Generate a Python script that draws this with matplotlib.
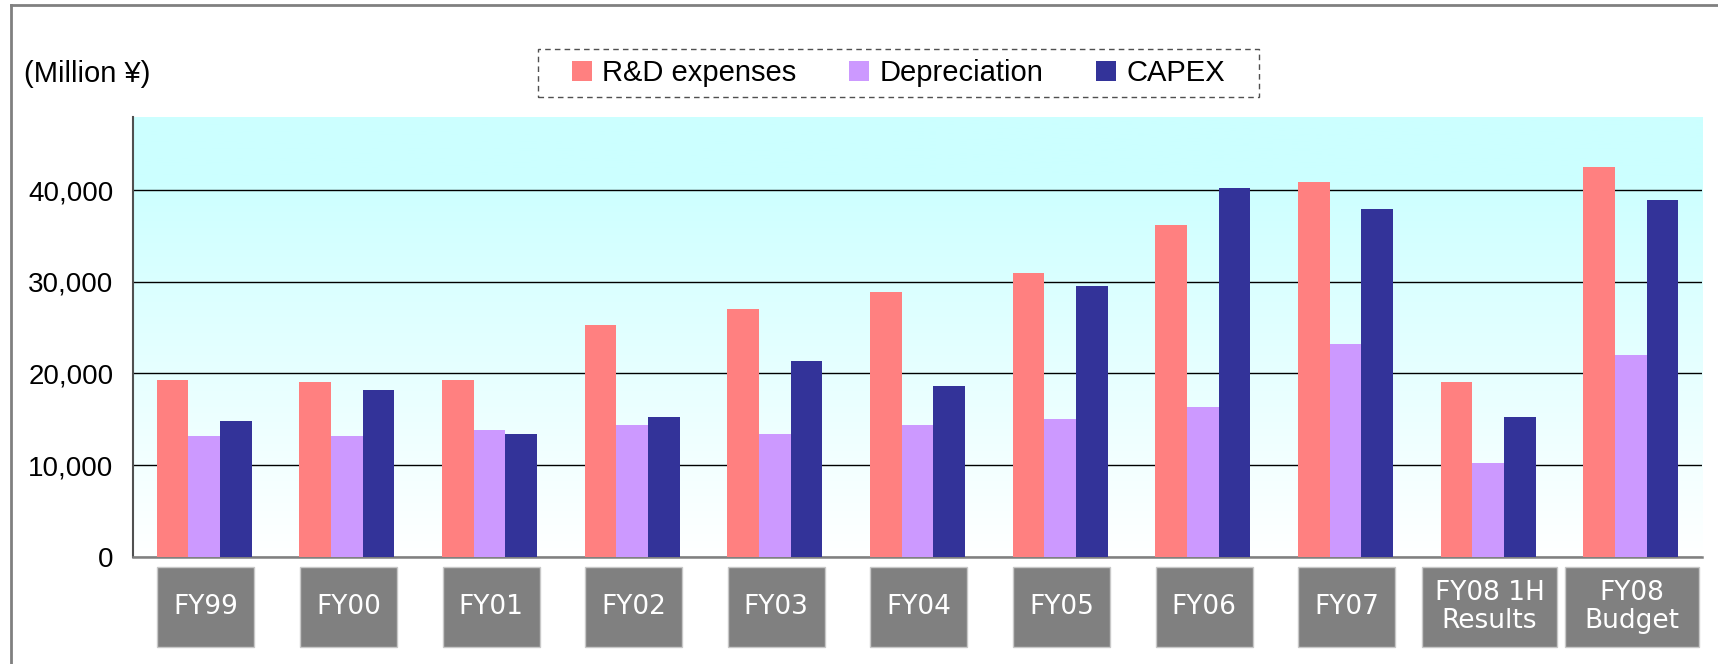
import matplotlib
matplotlib.use('Agg')
import matplotlib.pyplot as plt
import matplotlib.transforms as mtransforms
from matplotlib.colors import LinearSegmentedColormap
from matplotlib.patches import Rectangle, Patch
from matplotlib.lines import Line2D
from matplotlib.ticker import FuncFormatter
import numpy as np

# Datos (millones de yenes)
categories = ['FY99', 'FY00', 'FY01', 'FY02', 'FY03', 'FY04', 'FY05', 'FY06',
              'FY07', 'FY08 1H\nResults', 'FY08\nBudget']
rnd = [19300, 19050, 19300, 25300, 27050, 28900, 30950, 36200, 40900, 19050, 42550]
dep = [13150, 13150, 13800, 14350, 13400, 14350, 15000, 16350, 23200, 10200, 22000]
capex = [14800, 18200, 13400, 15250, 21350, 18600, 29550, 40250, 37950, 15250, 38950]
series_names = ['R&D expenses', 'Depreciation', 'CAPEX']
colors = ['#FF8080', '#CC99FF', '#333399']

plt.rcParams['font.family'] = ['Liberation Sans', 'DejaVu Sans']

W, H = 1718, 664
fig = plt.figure(figsize=(W / 100, H / 100), dpi=100)
ax = fig.add_axes([133 / W, 1 - 556.6 / H, (1702 - 133) / W, (556.6 - 117) / H])

x = np.arange(len(categories))
ax.set_xlim(-0.5, len(categories) - 0.5)
ax.set_ylim(0, 48000)

# fondo degradado cian -> blanco
bg = LinearSegmentedColormap.from_list('bg', ['#FFFFFF', '#CCFFFF'])
grad = np.clip(np.linspace(0, 1.15, 256), 0, 1).reshape(-1, 1)
ax.imshow(grad, cmap=bg, origin='lower', aspect='auto',
          extent=(-0.5, len(categories) - 0.5, 0, 48000), zorder=0)

# barras
w = 0.222
for i, (vals, c) in enumerate(zip([rnd, dep, capex], colors)):
    ax.bar(x + (i - 1) * w, vals, width=w, color=c, zorder=3)

# cuadrícula
ax.set_yticks([0, 10000, 20000, 30000, 40000])
ax.yaxis.set_major_formatter(FuncFormatter(lambda v, p: f'{v:,.0f}'))
ax.grid(axis='y', color='black', linewidth=1.0, zorder=1)
ax.set_axisbelow(True)
ax.tick_params(axis='y', length=0, pad=14, labelsize=20)
ax.set_xticks([])
for s in ['top', 'right']:
    ax.spines[s].set_visible(False)
ax.spines['left'].set_color('#505050')
ax.spines['left'].set_linewidth(1.5)
ax.spines['bottom'].set_color('#808080')
ax.spines['bottom'].set_linewidth(1.8)

# etiquetas del eje x en cajas grises
trans = mtransforms.blended_transform_factory(ax.transData, fig.transFigure)
y0, y1 = 1 - 647 / H, 1 - 567 / H
for xi, lab in zip(x, categories):
    bw = 0.94 if '\n' in lab else 0.68
    ax.add_patch(Rectangle((xi + 0.01 - bw / 2, y0), bw, y1 - y0, transform=trans,
                           facecolor='#808080', edgecolor='#C8C8C8', linewidth=1,
                           clip_on=False, zorder=5))
    ax.text(xi + 0.01, (y0 + y1) / 2, lab, transform=trans, ha='center', va='center',
            color='white', fontsize=19, family='DejaVu Sans', linespacing=1.05,
            zorder=6)

# leyenda con marco discontinuo
handles = [Patch(facecolor=c, edgecolor='none') for c in colors]
fig.legend(handles, series_names, loc='center',
           bbox_to_anchor=(898.5 / W, 1 - 73 / H), ncol=3, frameon=False,
           fontsize=21, handlelength=0.7, handleheight=0.7,
           handletextpad=0.35, columnspacing=1.8)
fig.add_artist(Rectangle((538 / W, 1 - 97 / H), 721 / W, 48 / H,
                         transform=fig.transFigure, fill=False,
                         linestyle=(0, (4, 3)), edgecolor='#505050', linewidth=1))

fig.text(24 / W, 1 - 74.5 / H, '(Million ¥)', fontsize=21, va='center', ha='left')

# marco exterior
fig.add_artist(Line2D([11 / W, 11 / W], [0, 1 - 5 / H], transform=fig.transFigure,
                      color='#808080', linewidth=2))
fig.add_artist(Line2D([11 / W, 1], [1 - 5 / H, 1 - 5 / H], transform=fig.transFigure,
                      color='#808080', linewidth=2))

fig.savefig('out.png', dpi=100)
